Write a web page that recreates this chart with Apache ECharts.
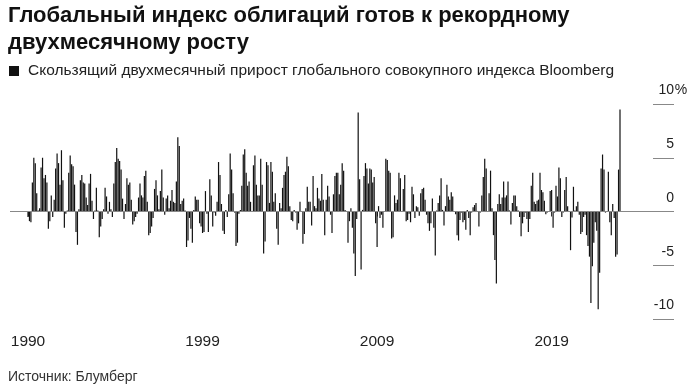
<!DOCTYPE html>
<html><head><meta charset="utf-8">
<script src="https://cdn.jsdelivr.net/npm/echarts@6/dist/echarts.min.js"></script>
<style>html,body{margin:0;padding:0;background:#fff}#c{width:694px;height:384px}</style>
</head><body><div id="c"></div>
<script>
const seriesName = 'Скользящий двухмесячный прирост глобального совокупного индекса Bloomberg';
const titleText = 'Глобальный индекс облигаций готов к рекордному\nдвухмесячному росту';
const sourceText = 'Источник: Блумберг';
const xTickLabels = ['1990', '1999', '2009', '2019'];
const xTickMonths = [0, 120, 240, 360];
const yTickStep = 5;

// rolling two-month change, % (monthly bars)
const seg1990 = [
  -0.5, -0.9, -1.0, 2.7, 5.0, 4.5, 1.7, 0.1, 0.3, 4.1, 5.0, 3.1,
  3.4, 2.7, -1.6, -0.9, 1.5, -0.5, 1.1, 4.0, 5.4, 4.5, 2.5, 5.7,
  2.9, -1.5, -0.2, 0.1, 3.6, 5.2, 4.4, 4.2, 2.5, -1.9, -3.1, 0.2,
  2.9, 3.4, 2.7, 2.6, 1.3, 0.6, 2.6, 3.5, 1.0, -0.7, 0.1, 2.2,
  0.1, -2.4, -1.4, -0.7, 0.2, 2.2, 1.4, -0.2, 0.9, 0.2, -0.5, 2.6,
  4.6, 5.9, 4.9, 4.7, 3.9, 1.2, -0.7, 0.7, 3.1, 2.5, 2.7, 1.1,
  -1.2, -0.9, -0.5, -0.2, 1.3, 2.6, 1.5, 1.3, 3.3, 3.8, 0.9, -2.2,
  -2.0, -1.4, -0.6, 2.1, 2.9, 1.5, 0.2, 1.9, 3.9, 1.3, -0.3, 1.2,
  1.5, 0.3, 1.0, 2.0, 0.9, 0.8, 2.8, 6.9, 6.1, 0.7, 1.0, 1.2,
  0.1, -3.3, -2.7, -0.6, -1.6, -2.9, 0.15, 1.4, 1.1, 1.1, -1.1, -1.4
];
const seg1999 = [
  -2.0, -1.9, 1.9, -0.2, -1.9, 3.0, 1.5, -1.4, -0.1, -0.4, 0.9, 4.6,
  3.4, 0.7, -1.8, -2.1, 0.15, -0.5, 1.6, 5.4, 3.9, 1.7, -0.1, -3.2,
  -2.9, -0.2, 0.15, 2.4, 5.3, 5.8, 3.6, 2.4, 2.8, 0.9, 0.05, 4.3,
  5.2, 2.5, 1.5, 1.5, 4.9, 2.5, -3.9, -2.8, 4.6, 4.3, 0.8, 4.6,
  3.7, 0.9, 1.7, -1.6, -3.1, 0.8, 0.3, 2.2, 3.4, 3.7, 5.1, 4.2,
  0.5, -0.8, -0.9, 0.15, -0.1, -1.7, -1.1, 0.9, 0.05, -3.0, -2.1, 0.3,
  2.3, 0.9, 0.9, -1.3, 3.3, 0.5, 0.3, 2.2, 1.2, 1.0, 3.5, 1.1,
  -2.2, 1.1, 2.4, 1.4, -0.3, -2.0, 1.6, 3.3, 3.6, 3.6, 1.6, 2.5,
  4.5, 3.8, 0.15, 0.05, -2.9, -0.9, 0.3, -1.5, -3.9, -6.0, -0.7, 9.2,
  3.0, -5.4, 0.15, 3.3, 4.5, 4.0, 2.6, 4.0, 3.9, 2.7, 3.2, -1.1
];
const seg2009 = [
  -3.3, 0.5, -0.6, -0.3, -1.5, 0.05, 4.9, 4.8, 3.8, 3.6, -2.5, -2.4,
  1.5, 0.8, 1.1, 3.6, 3.1, 0.05, 2.1, 3.4, -0.9, -0.8, -0.2, -1.0,
  2.3, 1.6, -0.6, 0.5, 0.4, -0.4, 1.7, 2.1, 2.2, 1.1, -0.3, -1.1,
  -1.8, -1.1, 1.2, -1.5, -4.1, 0.1, 0.8, 1.5, 3.1, 0.15, -1.3, 0.5,
  2.5, 1.4, 1.1, 1.8, 1.4, 0.05, -0.25, -2.2, -2.7, -0.8, -0.1, -1.0,
  -0.8, -1.7, 0.15, -0.6, -2.2, -0.1, 0.4, 0.6, 0.8, 0.05, -1.4, -0.1,
  1.5, 3.2, 4.9, 4.0, 0.05, 1.7, 3.8, 0.3, -2.2, -4.5, -6.7, 0.7,
  1.6, 0.7, 1.3, 2.8, 1.3, 1.5, 2.8, 0.1, -1.2, 0.8, 1.5, 1.5,
  0.5, 0.1, -0.5, -2.3, -1.1, -0.5, -0.1, -0.7, -1.9, -0.7, 2.4, 3.6,
  0.9, 0.7, 1.0, 1.1, 3.6, 2.0, 1.8, 1.0, -0.25, -0.1, 0.05, 1.9
];
const seg2019 = [
  2.0, -1.5, -0.1, 2.4, 1.4, 4.1, 3.1, -0.5, -0.1, 2.0, 3.2, 0.5,
  0.05, -3.6, -0.55, 2.3, 0.1, 0.5, 0.9, -0.3, -2.1, -1.9, -0.5, -0.3,
  -2.2, -3.2, -4.2, -8.5, -5.1, -2.9, -1.0, -1.8, -9.1, -5.7, 4.0, 5.3,
  3.9, -0.1, 0.05, 3.7, -1.0, -2.2, 0.7, -0.6, -4.2, -4.0, 3.9, 9.5
];

const values = seg1990.concat(seg1999, seg2009, seg2019);
const barData = values.map((v, i) => [i, v]);
const lastIndex = values.length - 1;
// first bar at x=28, last at x=620, grid from 10 to 674
const pxPerBar = (620 - 28) / lastIndex;
const xMin = -(28 - 10) / pxPerBar;
const xMax = lastIndex + (674 - 620) / pxPerBar;

const FONT = 'Liberation Sans';
const chart = echarts.init(document.getElementById('c'), null, { renderer: 'canvas' });
chart.setOption({
  animation: false,
  backgroundColor: '#fff',
  title: [
    { text: titleText, left: 8, top: 2, padding: 0,
      textStyle: { fontFamily: FONT, fontSize: 22, fontWeight: 'bold', color: '#111', lineHeight: 27 } },
    { text: sourceText, left: 8, top: 370, padding: 0,
      textStyle: { fontFamily: FONT, fontSize: 14, fontWeight: 'normal', color: '#333', lineHeight: 14 } }
  ],
  legend: {
    left: 9, top: 63, padding: 0, icon: 'rect', itemWidth: 10, itemHeight: 10, itemGap: 0,
    selectedMode: false, data: [seriesName],
    textStyle: { fontFamily: FONT, fontSize: 15.5, color: '#222', lineHeight: 16, padding: [0, 0, 0, 4] }
  },
  grid: [
    { left: 10, right: 20, top: 104, bottom: 65, containLabel: false },
    // narrow strip holding the right-hand tick marks
    { left: 653, right: 20, top: 104, bottom: 65, containLabel: false }
  ],
  xAxis: [{
    type: 'value', gridIndex: 0, min: xMin, max: xMax, position: 'bottom', offset: 1,
    splitLine: { show: false },
    axisLine: { show: false },
    axisTick: { show: true, customValues: xTickMonths, length: 5, lineStyle: { color: '#333', width: 1 } },
    axisLabel: {
      customValues: xTickMonths, margin: 13.5,
      formatter: v => xTickLabels[xTickMonths.indexOf(Math.round(v))] || '',
      fontFamily: FONT, fontSize: 15.5, color: '#222'
    }
  }, {
    type: 'value', gridIndex: 1, min: 0, max: 1, show: false
  }],
  yAxis: [{
    type: 'value', gridIndex: 0, position: 'right', min: -10, max: 10, interval: yTickStep,
    splitLine: { show: false },
    axisLine: { show: false },
    axisTick: { show: false },
    axisLabel: {
      margin: 14, align: 'right', verticalAlign: 'bottom', padding: [0, 0, 6.5, 0],
      formatter: v => '{n|' + v + '}{p|' + (v === 10 ? '%' : '\u00a0') + '}',
      rich: {
        n: { fontFamily: FONT, fontSize: 14, color: '#222' },
        p: { fontFamily: FONT, fontSize: 14, color: '#222', width: 14, align: 'left' }
      }
    }
  }, {
    type: 'value', gridIndex: 1, min: -10, max: 10, interval: yTickStep,
    axisLine: { show: false }, axisTick: { show: false }, axisLabel: { show: false },
    splitLine: { show: true, lineStyle: { color: '#888', width: 1 } }
  }],
  series: [{
    type: 'bar', name: seriesName, xAxisIndex: 0, yAxisIndex: 0,
    data: barData, barWidth: 1.2,
    itemStyle: { color: '#111' },
    markLine: {
      symbol: 'none', silent: true, label: { show: false },
      lineStyle: { color: '#888', width: 1, type: 'solid' },
      data: [{ yAxis: 0 }]
    }
  }]
});
</script></body></html>
